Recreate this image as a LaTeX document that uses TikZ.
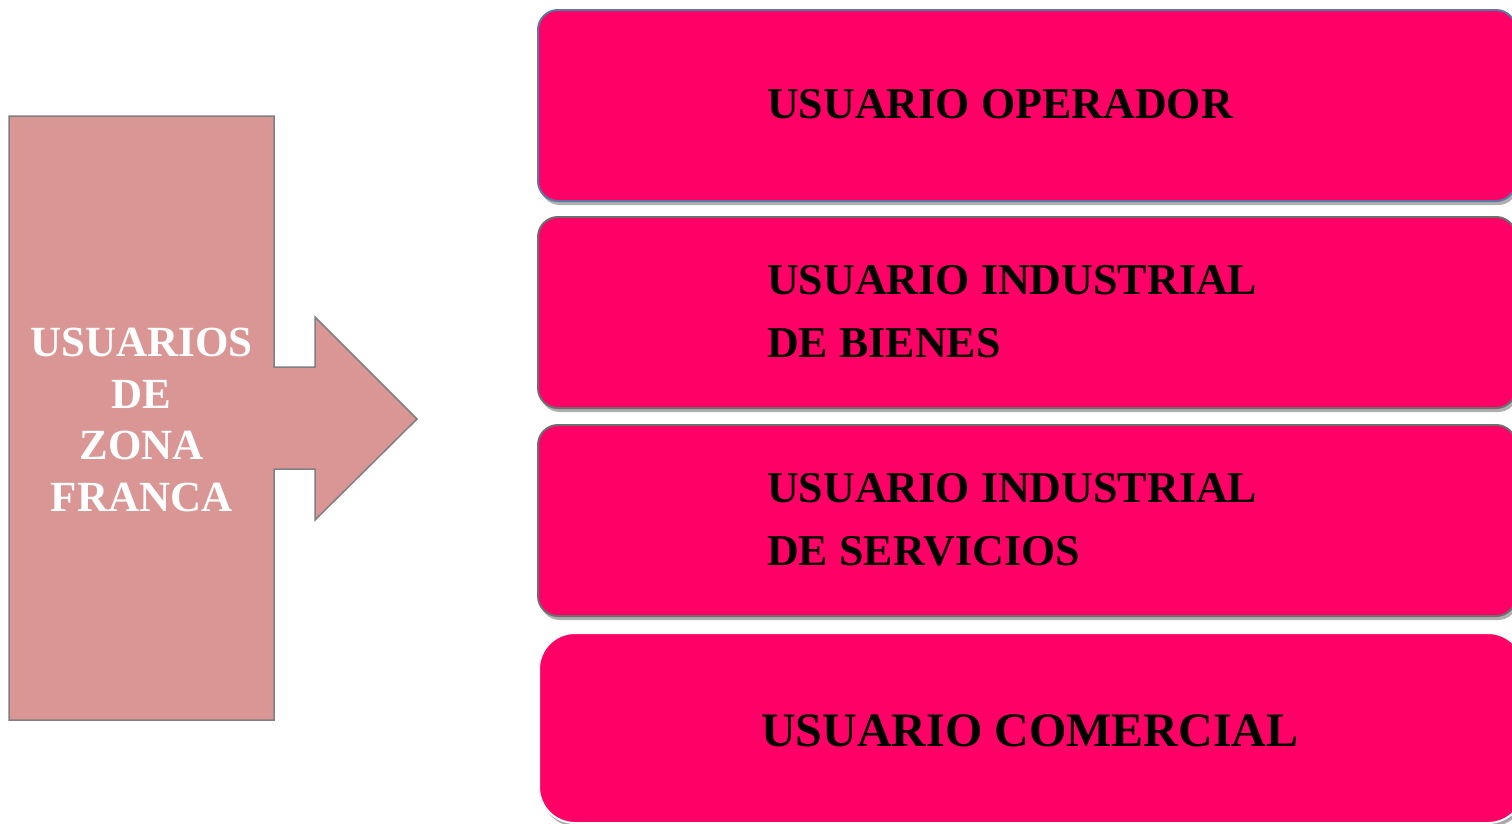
\documentclass[tikz,border=0pt]{standalone}
\usepackage{fontspec}
\setmainfont{Liberation Serif}
\usetikzlibrary{shadows}
\definecolor{leftfill}{HTML}{D99694}
\definecolor{leftline}{HTML}{7F7F7F}
\definecolor{boxfill}{HTML}{FF0066}
\definecolor{blueline}{HTML}{5A78A6}
\definecolor{grayline}{HTML}{6E6E6E}
\tikzset{
  ubox/.style={draw, line width=2pt, fill=boxfill, rounded corners=20pt, anchor=north west,
    minimum width=978pt, minimum height=191pt, inner sep=0pt,
    drop shadow={shadow xshift=2pt, shadow yshift=-4pt, opacity=0.45, fill=black!70}},
  utext/.style={anchor=west, align=left, font=\bfseries\fontsize{44}{63}\selectfont, text=black, inner sep=0pt},
  ltext/.style={align=center, font=\bfseries\fontsize{43}{51.5}\selectfont, text=white, inner sep=0pt}
}
\begin{document}
\begin{tikzpicture}[x=1pt,y=-1pt]
\useasboundingbox (0,0) rectangle (1512,823);
\clip (0,0) rectangle (1512,823);
\fill[white] (0,0) rectangle (1512,823);
% left block arrow
\draw[fill=leftfill, draw=leftline, line width=1.5pt, line join=miter]
  (9,116) -- (274,116) -- (274,367) -- (315,367) -- (315,317) -- (417,419)
  -- (315,520) -- (315,469) -- (274,469) -- (274,720) -- (9,720) -- cycle;
\node[ltext] (lt) at (141.5,420) {USUARIOS\\DE\\ZONA\\FRANCA};
% boxes
\node[ubox, draw=blueline] (b1) at (537,9) {};
\node[ubox, draw=grayline] (b2) at (537,216) {};
\node[ubox, draw=grayline] (b3) at (537,424) {};
\node[ubox, draw=white, rounded corners=36pt, minimum height=190pt, minimum width=985pt,
  drop shadow={shadow xshift=1pt, shadow yshift=-2pt, opacity=0.25, fill=black!50}] (b4) at (538,632) {};
\node[utext] (t1) at (767,104) {USUARIO OPERADOR};
\node[utext] (t2) at (767,312) {USUARIO INDUSTRIAL\\DE BIENES};
\node[utext] (t3) at (767,520) {USUARIO INDUSTRIAL\\DE SERVICIOS};
\node[utext, font=\bfseries\fontsize{48}{63}\selectfont] (t4) at (761,731) {USUARIO COMERCIAL};
\end{tikzpicture}
\end{document}
